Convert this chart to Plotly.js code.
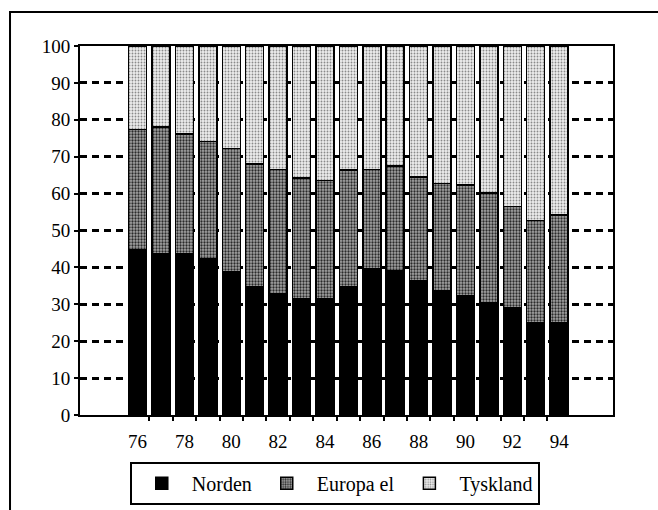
<!DOCTYPE html>
<html>
<head>
<meta charset="utf-8">
<script src="https://cdn.plot.ly/plotly-3.0.1.min.js"></script>
<style>
  html, body { margin: 0; padding: 0; background: #fff; }
  #chart { width: 658px; height: 510px; }
</style>
</head>
<body>
<div id="chart"></div>
<script>
// Years (x categories, two-digit)
const years = [76, 77, 78, 79, 80, 81, 82, 83, 84, 85, 86, 87, 88, 89, 90, 91, 92, 93, 94];
// Shares in percent
const norden    = [44.7, 43.7, 43.7, 42.3, 38.9, 34.8, 32.8, 31.6, 31.6, 34.8, 39.6, 39.0, 36.3, 33.8, 32.3, 30.3, 29.2, 24.9, 24.9];
const europaEl  = [32.7, 34.4, 32.4, 31.8, 33.3, 33.2, 33.8, 32.6, 32.0, 31.6, 27.0, 28.5, 28.2, 29.0, 30.0, 29.9, 27.3, 27.8, 29.3];
const tyskland  = [22.6, 21.9, 23.9, 25.9, 27.8, 32.0, 33.4, 35.8, 36.4, 33.6, 33.4, 32.5, 35.5, 37.2, 37.7, 39.8, 43.5, 47.3, 45.8];
const xTickLabels = ['76', '78', '80', '82', '84', '86', '88', '90', '92', '94'];
const xTickVals = [76, 78, 80, 82, 84, 86, 88, 90, 92, 94];
const xMarkVals = [76.5, 77.5, 78.5, 79.5, 80.5, 81.5, 82.5, 83.5, 84.5, 85.5, 86.5, 87.5, 88.5, 89.5, 90.5, 91.5, 92.5, 93.5];
const seriesNames = ['Norden', 'Europa el', 'Tyskland'];

const outline = { color: '#000', width: 1.5 };
const traces = [
  { type: 'bar', name: seriesNames[0], x: years, y: norden,
    marker: { color: '#000', line: outline } },
  { type: 'bar', name: seriesNames[1], x: years, y: europaEl,
    marker: { color: '#8f8f8f', line: outline,
      pattern: { shape: '.', fgcolor: '#2a2a2a', bgcolor: '#a6a6a6', size: 3, solidity: 0.45 } } },
  { type: 'bar', name: seriesNames[2], x: years, y: tyskland,
    marker: { color: '#dadada', line: outline,
      pattern: { shape: '.', fgcolor: '#8a8a8a', bgcolor: '#ededed', size: 3, solidity: 0.3 } } },
  // invisible helper on second x axis to carry the between-bar ticks
  { type: 'scatter', x: [years[0]], y: [0], xaxis: 'x2', mode: 'markers',
    marker: { opacity: 0 }, showlegend: false, hoverinfo: 'skip' }
];

const fontFam = 'Liberation Serif, Times New Roman, serif';
const layout = {
  width: 658, height: 510,
  margin: { l: 80, r: 45, t: 46, b: 95, autoexpand: false },
  paper_bgcolor: '#fff', plot_bgcolor: '#fff',
  font: { family: fontFam, size: 19, color: '#000' },
  barmode: 'stack',
  bargap: 0.23,
  showlegend: true,
  legend: {
    orientation: 'h', x: 0.478, xanchor: 'center', y: -0.127, yanchor: 'top',
    bordercolor: '#000', borderwidth: 2, bgcolor: '#fff',
    font: { family: fontFam, size: 20, color: '#000' },
    traceorder: 'normal', itemwidth: 50
  },
  xaxis: {
    range: [73.54, 96.3], tickvals: xTickVals, ticktext: xTickLabels,
    ticks: '', showgrid: false, zeroline: false, ticklabelstandoff: 8,
    showline: true, linecolor: '#000', linewidth: 2, mirror: true, automargin: false,
    tickfont: { family: fontFam, size: 19, color: '#000' }
  },
  xaxis2: {
    overlaying: 'x', side: 'bottom', range: [73.54, 96.3],
    tickmode: 'array', tickvals: xMarkVals, showticklabels: false,
    ticks: 'outside', ticklen: 5, tickwidth: 2, tickcolor: '#000',
    showgrid: false, zeroline: false, showline: false
  },
  yaxis: {
    range: [0, 100], dtick: 10, tick0: 0, automargin: false,
    ticks: 'outside', ticklen: 4, tickwidth: 2, tickcolor: '#000',
    showgrid: true, gridcolor: '#000', gridwidth: 3, griddash: '7px,5px',
    zeroline: false, showline: true, linecolor: '#000', linewidth: 2, mirror: true,
    tickfont: { family: fontFam, size: 19, color: '#000' }
  },
  shapes: [
    { type: 'rect', xref: 'paper', yref: 'paper',
      x0: -0.1313, x1: 1.3, y0: -0.5, y1: 1.092,
      line: { color: '#000', width: 2 }, fillcolor: 'rgba(0,0,0,0)', layer: 'below' }
  ]
};

Plotly.newPlot('chart', traces, layout, { displayModeBar: false, staticPlot: true });
</script>
</body>
</html>
